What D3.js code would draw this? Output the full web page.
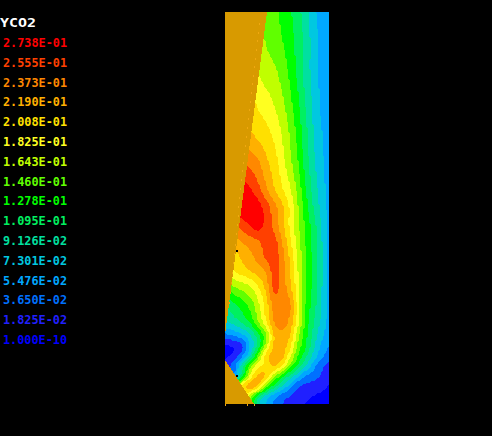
<!DOCTYPE html>
<html><head><meta charset="utf-8">
<script src="https://cdnjs.cloudflare.com/ajax/libs/d3/7.8.5/d3.min.js"></script>
<style>html,body{margin:0;padding:0;background:#000;overflow:hidden}svg{display:block}</style>
</head><body><svg id="c" width="492" height="436"></svg>
<script>
const title = "YCO2";
const levelLabels = ["2.738E-01","2.555E-01","2.373E-01","2.190E-01","2.008E-01","1.825E-01","1.643E-01","1.460E-01","1.278E-01","1.095E-01","9.126E-02","7.301E-02","5.476E-02","3.650E-02","1.825E-02","1.000E-10"];
const levelColors = ["#ff0000","#ff4000","#ff8800","#ffb000","#ffe000","#ffff20","#c0ff00","#60ff00","#00ff00","#00f060","#00e0a0","#00c8e0","#00a8ff","#0070ff","#2020ff","#0000ff"];
const bandColors = levelColors.slice().reverse();
const wedgeColor = "#d89a00";
const speckColor = "#f0a810";
const radial = [0,8,16,24,32,40,48,56,64,72,80,88,96,104];
const axial = [0,28,58,88,118,148,178,193,213,228,243,258,273,293,308,323,333,343,353,363,373,383,392];
const field = [
[10,10,10,9.6,9.3,8.8,8.3,7.77,7.15,6.33,5.38,4.29,3.6,3.2],
[10.5,10.4,10.2,9.8,9.4,8.95,8.5,8.05,7.4,6.6,5.6,4.45,3.6,3.2],
[11,11,11,10.5,9.95,9.5,9.2,8.6,7.75,6.7,5.55,4.5,3.7,3.2],
[12,12,11.8,11.3,10.8,10.4,9.9,9.2,8.25,7.15,5.85,4.7,3.7,3.1],
[13,13,12.6,12.05,11.6,11.25,10.7,9.9,8.85,7.6,6.2,4.9,4,3.2],
[15,14.8,14.1,13.6,13.1,12.2,11.5,10.4,9.25,8,6.5,5.15,4.2,3.3],
[16,16,15.6,15.2,14.4,13.3,12.15,11.2,10.15,8.7,7,5.55,4.45,3.4],
[16,16,15.9,15.7,15.4,14.5,13.4,12.2,10.8,9,7.4,5.8,4.6,3.5],
[13,13.6,14.4,15,15.4,14.7,13.7,12.4,10.8,9.2,7.7,6.4,4.85,3.5],
[12,12.6,13.1,13.5,13.9,14.4,14.4,13,11.25,9.5,7.83,6.4,5,3.5],
[11,11.6,12.2,12.75,13.4,14.2,14.6,13.4,11.75,9.75,8,6.6,5,3.5],
[10,11,11.5,12,12.5,13.1,14.4,13.5,12,10,8,6.6,5,3.6],
[8,9.1,9.5,10,11,12.4,14.3,13.6,12.25,10.25,8,6.6,5,3.6],
[6,6.7,7.4,8.3,9.6,11.4,13.4,13.6,13.2,10.5,7.83,6.4,4.8,3.6],
[5,5.6,6.3,7.3,9,11,13.1,13.5,12.75,10.33,7.67,6,4.75,3.4],
[2.6,3,3.6,4.85,6.5,8.75,12,12.7,12,9.33,7.25,5.6,4.2,3.2],
[0.8,1.1,1.8,4,6.3,9.5,12.2,12.5,11.33,8.75,7,5.2,3.7,3],
[0.8,1.3,2.7,5,8.3,11.5,12.4,12.4,10.33,8,6.25,4.6,3.3,2.3],
[1.5,2.6,5.4,8.4,10.6,11.2,12.2,11,8.8,6.8,5,3.4,2.2,1.7],
[2,3,6.3,10,12.1,12,9.5,7.6,5.8,4.4,3,2.5,1.9,1.3],
[4,7,11,12.8,12.2,9,6.8,5.2,3.7,2.2,1.8,1.5,1.3,.9],
[6,9,11,9.5,6.5,4.8,3.5,2.6,2,1.6,1.3,1,.8,.6],
[5,7,9,8.5,5.2,3.9,2.8,2,1.6,1.2,.9,.6,.4,.2]
];
const upperWedge = [[0,0],[42,0],[0,323]];
const lowerWedge = [[0,348],[29,392],[0,392]];
const lightSpecks = [[34,11],[33,20],[32,28],[31,37],[30,46],[29,54],[28,63],[27,71],[26,80],[25,89],[24,97],[23,106],[22,115],[21,124],[20,133],[19,141],[18,150],[17,158],[16,167],[15,176],[14,185],[13,194],[13,203],[12,212],[11,221],[10,232],[9,241],[8,250],[7,260],[6,270],[5,280],[4,290],[0,392],[22,392],[29,392]];
const darkSpecks = [[11,238],[11,363]];

const step = 1.5, blurX = 1, blurY = 2;
const nx = Math.ceil(104/step)+1, ny = Math.ceil(392/step)+1;
const sx = d3.scaleLinear().domain([0,104]).range([225,329]);
const sy = d3.scaleLinear().domain([0,392]).range([12,404]);
function cubic(xs,ys,x){
  let i = Math.max(0,Math.min(xs.length-2,d3.bisectRight(xs,x)-1));
  const h = xs[i+1]-xs[i], t=(x-xs[i])/h;
  const slope=k=>{ if(k<=0)return (ys[1]-ys[0])/(xs[1]-xs[0]); if(k>=xs.length-1)return (ys[k]-ys[k-1])/(xs[k]-xs[k-1]); return (ys[k+1]-ys[k-1])/(xs[k+1]-xs[k-1]); };
  const m0=slope(i),m1=slope(i+1),t2=t*t,t3=t2*t;
  return (2*t3-3*t2+1)*ys[i]+(t3-2*t2+t)*h*m0+(-2*t3+3*t2)*ys[i+1]+(t3-t2)*h*m1;
}
let fine = new Float64Array(nx*ny);
for(let i=0;i<nx;i++){
  const r=i*step;
  const col = field.map(row=>cubic(radial,row,Math.min(r,104)));
  for(let j=0;j<ny;j++) fine[i+j*nx]=cubic(axial,col,Math.min(j*step,392));
}
function box(src,rx,ry){
  const out = new Float64Array(nx*ny), o2 = new Float64Array(nx*ny);
  for(let j=0;j<ny;j++)for(let i=0;i<nx;i++){
    let s=0,n=0;
    for(let d=-rx;d<=rx;d++){s+=src[Math.max(0,Math.min(nx-1,i+d))+j*nx];n++;}
    out[i+j*nx]=s/n;
  }
  for(let j=0;j<ny;j++)for(let i=0;i<nx;i++){
    let s=0,n=0;
    for(let d=-ry;d<=ry;d++){s+=out[i+Math.max(0,Math.min(ny-1,j+d))*nx];n++;}
    o2[i+j*nx]=s/n;
  }
  return o2;
}
fine = box(fine,blurX,blurY);
const thresholds = d3.range(bandColors.length);
const contours = d3.contours().size([nx,ny]).smooth(false).thresholds(thresholds)(Array.from(fine,v=>Math.max(v,0.001)));
const svg = d3.select("#c");
svg.append("rect").attr("width",492).attr("height",436).attr("fill","#000");
svg.append("defs").append("clipPath").attr("id","f").append("rect")
  .attr("x",sx(0)).attr("y",sy(0)).attr("width",sx(104)-sx(0)).attr("height",sy(392)-sy(0));
const proj = d3.geoTransform({point(x,y){this.stream.point(sx(x*step),sy(y*step));}});
const path = d3.geoPath(proj);
const g = svg.append("g").attr("clip-path","url(#f)");
g.selectAll("path").data(contours).join("path")
  .attr("d",path).attr("fill",(d,i)=>bandColors[i]).attr("shape-rendering","crispEdges");
const line = d3.line().x(d=>sx(d[0])).y(d=>sy(d[1]));
svg.selectAll("path.w").data([upperWedge,lowerWedge]).join("path").attr("class","w")
  .attr("d",d=>line(d)+"Z").attr("fill",wedgeColor).attr("shape-rendering","crispEdges");
svg.selectAll("rect.s").data(lightSpecks).join("rect").attr("class","s")
  .attr("x",d=>sx(d[0])).attr("y",d=>sy(d[1])).attr("width",1).attr("height",2).attr("fill",speckColor);
svg.selectAll("rect.d").data(darkSpecks).join("rect").attr("class","d")
  .attr("x",d=>sx(d[0])).attr("y",d=>sy(d[1])).attr("width",2).attr("height",2).attr("fill","#000");
const font = "'DejaVu Sans Mono', monospace";
svg.append("text").text(title).attr("x",0).attr("y",27).attr("fill","#fff")
  .attr("font-family",font).attr("font-weight","bold").attr("font-size",12.5).attr("textLength",36).attr("lengthAdjust","spacingAndGlyphs");
const ly = d3.scaleLinear().domain([0,levelLabels.length-1]).range([47,344]);
svg.selectAll("text.l").data(levelLabels).join("text").attr("class","l").text(d=>d)
  .attr("x",3).attr("y",(d,i)=>ly(i)).attr("fill",(d,i)=>levelColors[i])
  .attr("font-family",font).attr("font-weight","bold").attr("font-size",12.5).attr("textLength",64).attr("lengthAdjust","spacingAndGlyphs");
</script></body></html>
